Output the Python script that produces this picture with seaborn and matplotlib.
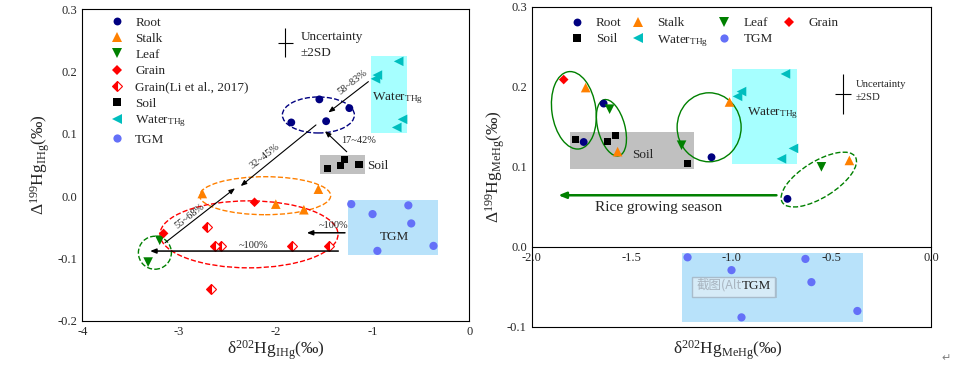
import pandas as pd
import seaborn as sns
import matplotlib.pyplot as plt
from matplotlib.lines import Line2D
from matplotlib.patches import Ellipse, Rectangle
from matplotlib.transforms import ScaledTranslation
from matplotlib.ticker import MultipleLocator, FormatStrFormatter

sns.set_style("white")
plt.rcParams['font.family'] = ['Liberation Serif', 'DejaVu Sans']
plt.rcParams['mathtext.fontset'] = 'custom'
plt.rcParams['mathtext.rm'] = 'Liberation Serif'
plt.rcParams['mathtext.it'] = 'Liberation Serif:italic'
plt.rcParams['mathtext.default'] = 'regular'
plt.rcParams['axes.unicode_minus'] = False
plt.rcParams['xtick.direction'] = 'in'
plt.rcParams['ytick.direction'] = 'in'

# ---- IHg panel ----
root_x = [-1.84, -1.55, -1.48, -1.24]
root_y = [0.118, 0.155, 0.120, 0.141]
stalk_x = [-2.76, -1.56, -2.00, -1.71]
stalk_y = [0.004, 0.011, -0.013, -0.022]
leaf_x = [-3.20, -3.32]
leaf_y = [-0.071, -0.106]
grain_x = [-2.22, -3.16]
grain_y = [-0.010, -0.060]
grain_li_x = [-2.71, -2.63, -2.57, -1.83, -1.45, -2.67]
grain_li_y = [-0.050, -0.080, -0.080, -0.080, -0.080, -0.149]
soil_x = [-1.47, -1.33, -1.29, -1.14]
soil_y = [0.044, 0.049, 0.059, 0.051]

# ---- shared by both panels ----
water_x = [-0.97, -0.95, -0.73, -0.69, -0.75]
water_y = [0.188, 0.194, 0.216, 0.123, 0.110]
tgm_x = [-1.22, -1.00, -0.63, -0.60, -0.95, -0.37]
tgm_y = [-0.013, -0.029, -0.015, -0.044, -0.088, -0.080]

# ---- MeHg panel ----
root_me_x = [-1.64, -1.74, -1.10, -0.72]
root_me_y = [0.179, 0.131, 0.112, 0.060]
stalk_me_x = [-1.73, -1.57, -1.01, -0.41]
stalk_me_y = [0.199, 0.119, 0.181, 0.108]
leaf_me_x = [-1.61, -1.25, -0.55]
leaf_me_y = [0.172, 0.127, 0.100]
grain_me_x = [-1.84]
grain_me_y = [0.209]
soil_me_x = [-1.78, -1.62, -1.58, -1.22]
soil_me_y = [0.134, 0.132, 0.139, 0.104]

colors = {'Root': '#000080', 'Stalk': '#ff8000', 'Leaf': '#008000', 'Grain': '#ff0000',
          'Soil': '#000000', 'Water': '#00bebe', 'TGM': '#6470f8'}
markers = {'Root': 'o', 'Stalk': '^', 'Leaf': 'v', 'Grain': 'D',
           'Soil': 's', 'Water': '<', 'TGM': 'o'}
sizes = {'Root': 32, 'Stalk': 48, 'Leaf': 48, 'Grain': 24,
         'Soil': 26, 'Water': 48, 'TGM': 35}

fig = plt.figure(figsize=(9.71, 3.66), dpi=100)
ax1 = fig.add_axes([0.0848, 0.1238, 0.3985, 0.8516])
ax2 = fig.add_axes([0.5476, 0.1066, 0.4115, 0.8751])


def scatter(ax, groups):
    df = pd.concat([pd.DataFrame({'x': x, 'y': y, 'group': g}) for g, x, y in groups],
                   ignore_index=True)
    order = [g[0] for g in groups]
    sns.scatterplot(data=df, x='x', y='y', hue='group', style='group', size='group',
                    hue_order=order, style_order=order, size_order=order,
                    palette={g: colors[g] for g in order},
                    markers={g: markers[g] for g in order},
                    sizes={g: sizes[g] for g in order},
                    linewidth=0, legend=False, ax=ax, zorder=3)


def ring(ax, cx, cy, w, h, color, ls, angle=0):
    # ellipse sized in pixels, centred on a data point
    tr = fig.dpi_scale_trans + ScaledTranslation(cx, cy, ax.transData)
    ax.add_patch(Ellipse((0, 0), w / 100, h / 100, angle=angle, transform=tr,
                         fill=False, ec=color, ls=ls, lw=1, zorder=2))


def box(ax, x0, x1, y0, y1, color):
    ax.add_patch(Rectangle((x0, y0), x1 - x0, y1 - y0, fc=color, ec='none', zorder=0.5))


def arrow(ax, start, end, color='k', lw=0.8, head=0.35):
    ax.annotate('', xy=end, xytext=start,
                arrowprops=dict(arrowstyle=f'-|>,head_length={head},head_width={head/2.5}',
                                color=color, lw=lw, shrinkA=0, shrinkB=0), zorder=4)


def handle(g):
    return Line2D([], [], ls='none', marker=markers[g], color=colors[g],
                  ms=sizes[g] ** 0.5, mew=0)


# ================= left panel =================
box(ax1, -1.02, -0.64, 0.101, 0.225, '#a6ffff')
box(ax1, -1.54, -1.08, 0.036, 0.066, '#c0c0c0')
box(ax1, -1.25, -0.32, -0.095, -0.006, '#b8e2fa')

scatter(ax1, [('Root', root_x, root_y), ('Stalk', stalk_x, stalk_y),
              ('Leaf', leaf_x, leaf_y), ('Grain', grain_x, grain_y),
              ('Soil', soil_x, soil_y), ('Water', water_x, water_y),
              ('TGM', tgm_x, tgm_y)])
ax1.plot(grain_li_x, grain_li_y, ls='none', marker='D', ms=4.8, fillstyle='left',
         mfc='#ff0000', mfcalt='white', mec='#ff0000', mew=0.8, zorder=3)

ring(ax1, -1.56, 0.130, 72, 36, '#000080', '--')
ring(ax1, -2.11, 0.0005, 131, 38, '#ff8000', '--')
ring(ax1, -2.277, -0.0615, 178, 67, '#ff0000', '--')
ring(ax1, -3.25, -0.091, 33, 33, '#008000', '--')

arrow(ax1, (-1.043, 0.1835), (-1.456, 0.134))
arrow(ax1, (-1.585, 0.114), (-2.363, 0.016))
arrow(ax1, (-3.145, -0.075), (-2.422, 0.0124))
arrow(ax1, (-1.267, 0.071), (-1.491, 0.104))
arrow(ax1, (-1.354, -0.0883), (-3.30, -0.0883), lw=1.1)
arrow(ax1, (-1.285, -0.059), (-1.68, -0.059), lw=1.1)

pct = dict(fontsize=7.5, ha='center', va='center', rotation_mode='anchor')
ax1.text(-1.209, 0.1825, '58~83%', rotation=38, **pct)
ax1.text(-2.112, 0.063, '32~45%', rotation=38, **pct)
ax1.text(-2.887, -0.033, '55~68%', rotation=38, **pct)
ax1.text(-1.32, 0.089, '17~42%', fontsize=7.5, ha='left', va='center')
ax1.text(-2.232, -0.079, '~100%', **pct)
ax1.text(-1.406, -0.048, '~100%', **pct)

ax1.text(-1.0025, 0.154, 'Water$_{\\rm THg}$', fontsize=9.5, ha='left', va='baseline')
ax1.text(-1.06, 0.0433, 'Soil', fontsize=9.5, ha='left', va='baseline')
ax1.text(-0.778, -0.0706, 'TGM', fontsize=9.5, ha='center', va='baseline')

ax1.errorbar(-1.902, 0.246, xerr=0.079, yerr=0.0233, color='k', lw=0.8, capsize=0)
ax1.text(-1.74, 0.2555, 'Uncertainty', fontsize=9.5, va='center')
ax1.text(-1.74, 0.2290, '±2SD', fontsize=9.5, va='center')

ax1.set_xlim(-4, 0)
ax1.set_ylim(-0.2, 0.3)
ax1.xaxis.set_major_locator(MultipleLocator(1))
ax1.xaxis.set_minor_locator(MultipleLocator(0.5))
ax1.yaxis.set_major_locator(MultipleLocator(0.1))
ax1.yaxis.set_minor_locator(MultipleLocator(0.05))
ax1.xaxis.set_major_formatter(FormatStrFormatter('%d'))
ax1.yaxis.set_major_formatter(FormatStrFormatter('%.1f'))
ax1.set_xlabel('δ$^{202}$Hg$_{\\rm IHg}$(‰)', fontsize=12.5, labelpad=1)
ax1.set_ylabel('Δ$^{199}$Hg$_{\\rm IHg}$(‰)', fontsize=12.5, labelpad=4)

h1 = [handle('Root'), handle('Stalk'), handle('Leaf'), handle('Grain'),
      Line2D([], [], ls='none', marker='D', ms=4.8, fillstyle='left', mfc='#ff0000',
             mfcalt='white', mec='#ff0000', mew=0.8),
      handle('Soil'), handle('Water'), handle('TGM')]
l1 = ['Root', 'Stalk', 'Leaf', 'Grain', 'Grain(Li et al., 2017)', 'Soil',
      'Water$_{\\rm THg}$', 'TGM']
ax1.legend(h1, l1, loc='upper left', bbox_to_anchor=(0.072, 0.976), frameon=False,
           fontsize=9.5, handlelength=1.0, handletextpad=0.9, labelspacing=0.3,
           borderpad=0, borderaxespad=0)

# ================= right panel =================
box(ax2, -1.0, -0.67, 0.103, 0.222, '#a6ffff')
box(ax2, -1.81, -1.19, 0.097, 0.144, '#c0c0c0')
box(ax2, -1.25, -0.34, -0.094, -0.008, '#b8e2fa')

scatter(ax2, [('Root', root_me_x, root_me_y), ('Stalk', stalk_me_x, stalk_me_y),
              ('Leaf', leaf_me_x, leaf_me_y), ('Grain', grain_me_x, grain_me_y),
              ('Soil', soil_me_x, soil_me_y), ('Water', water_x, water_y),
              ('TGM', tgm_x, tgm_y)])

ring(ax2, -1.789, 0.1706, 44, 78, '#008000', '-', angle=8)
ring(ax2, -1.601, 0.1488, 27, 58, '#008000', '-', angle=15)
ring(ax2, -1.112, 0.1494, 64, 69, '#008000', '-')
ring(ax2, -0.563, 0.0841, 86, 36, '#008000', '--', angle=32)

arrow(ax2, (-0.775, 0.0645), (-1.867, 0.0645), color='#008000', lw=1.8, head=0.45)
ax2.text(-1.683, 0.0488, 'Rice growing season', fontsize=11, ha='left', va='center')

ax2.text(-1.443, 0.1154, 'Soil', fontsize=9.5, ha='center', va='center')
ax2.text(-0.924, 0.1645, 'Water$_{\\rm THg}$', fontsize=9.5, ha='left', va='baseline')

# screenshot tooltip left over the TGM label
ax2.add_patch(Rectangle((-1.188, -0.064), 0.416, 0.025, fc='#9aa8b4', ec='none',
                        alpha=0.5, zorder=4))
ax2.add_patch(Rectangle((-1.198, -0.062), 0.416, 0.025, fc='#d6ebf7', ec='#a9bccb',
                        lw=1, zorder=4))
ax2.text(-1.173, -0.052, '截图(Alt', fontsize=9, color='#a8b4bf', ha='left',
         va='baseline', family=['Noto Sans CJK SC', 'DejaVu Sans'], zorder=5)
ax2.text(-0.947, -0.052, 'TGM', fontsize=9.5, ha='left', va='baseline', zorder=5)

ax2.errorbar(-0.44, 0.191, xerr=0.04, yerr=0.0248, color='k', lw=0.8, capsize=0)
ax2.text(-0.377, 0.2025, 'Uncertainty', fontsize=7.7, va='center')
ax2.text(-0.377, 0.1866, '±2SD', fontsize=7.7, va='center')

ax2.set_xlim(-2, 0)
ax2.set_ylim(-0.1, 0.3)
ax2.spines['bottom'].set_position(('data', 0))
ax2.plot([0, 1], [0, 0], transform=ax2.transAxes, color='k', lw=0.8, clip_on=False)
ax2.xaxis.set_major_locator(MultipleLocator(0.5))
ax2.xaxis.set_minor_locator(MultipleLocator(0.25))
ax2.yaxis.set_major_locator(MultipleLocator(0.1))
ax2.yaxis.set_minor_locator(MultipleLocator(0.05))
ax2.xaxis.set_major_formatter(FormatStrFormatter('%.1f'))
ax2.yaxis.set_major_formatter(FormatStrFormatter('%.1f'))
ax2.set_xlabel('δ$^{202}$Hg$_{\\rm MeHg}$(‰)', fontsize=12.5)
ax2.xaxis.set_label_coords(0.49, -0.035)
ax2.set_ylabel('Δ$^{199}$Hg$_{\\rm MeHg}$(‰)', fontsize=12.5, labelpad=0)

h2 = [handle('Root'), handle('Soil'), handle('Stalk'), handle('Water'),
      handle('Leaf'), handle('TGM'), handle('Grain')]
l2 = ['Root', 'Soil', 'Stalk', 'Water$_{\\rm THg}$', 'Leaf', 'TGM', 'Grain']
ax2.legend(h2, l2, loc='upper left', bbox_to_anchor=(0.096, 0.968), frameon=False, ncol=4,
           fontsize=9.5, handlelength=1.0, handletextpad=0.96, columnspacing=0.72,
           labelspacing=0.3, borderpad=0, borderaxespad=0)

for ax in (ax1, ax2):
    ax.set_zorder(1)
    ax.tick_params(which='major', length=3.5, width=0.8, labelsize=9)
    ax.tick_params(which='minor', length=2, width=0.8)
    for s in ax.spines.values():
        s.set_linewidth(0.8)
        s.set_color('k')

fig.text(0.97, 0.012, '↵', fontsize=8, color='#808080', family=['DejaVu Sans'])

plt.savefig("out.png", dpi=100)
